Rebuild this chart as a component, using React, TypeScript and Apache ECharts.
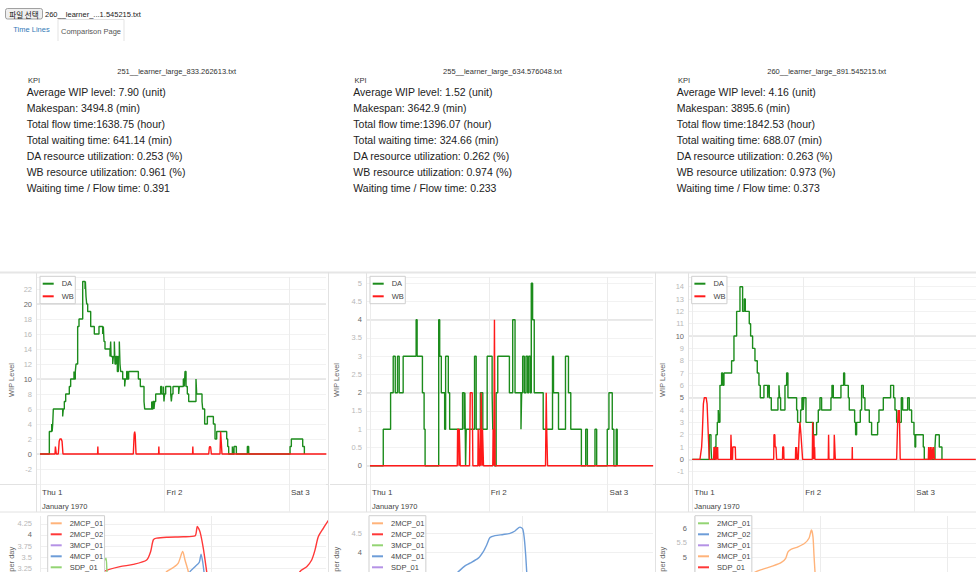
import React, { useEffect, useRef } from "react";
import * as echarts from "echarts";

const FONT = "'Liberation Sans', Arial, Helvetica, sans-serif";
const CJK_FONT = "'Noto Sans CJK KR', 'Liberation Sans', sans-serif";

// ---------- header texts ----------
const FILE_BUTTON = "파일 선택";
const CHOSEN_FILE = "260__learner_...1.545215.txt";
const TAB_LINKS = ["Time Lines", "Comparison Page"];

// ---------- KPI values ----------
const RUN_FILES = [
  "251__learner_large_833.262613.txt",
  "255__learner_large_634.576048.txt",
  "260__learner_large_891.545215.txt",
];
const KPI_TITLE = "KPI";
const AVG_WIP = ["7.90", "1.52", "4.16"];
const MAKESPAN = ["3494.8", "3642.9", "3895.6"];
const FLOW_TIME = ["1638.75", "1396.07", "1842.53"];
const WAIT_TIME = ["641.14", "324.66", "688.07"];
const DA_UTIL = ["0.253", "0.262", "0.263"];
const WB_UTIL = ["0.961", "0.974", "0.973"];
const WAIT_FLOW = ["0.391", "0.233", "0.373"];

// ---------- axis labels ----------
const DAY_TICKS = [0, 24, 48];
const DAY_LABELS = ["Thu 1", "Fri 2", "Sat 3"];
const MONTH_LABEL = "January 1970";
const WIP_TITLE = "WIP Level";
const OUTPUT_TITLE = "per day";
const WIP_NAMES = ["DA", "WB"];
const PRODUCT_NAMES = ["2MCP_01", "2MCP_02", "3MCP_01", "4MCP_01", "SDP_01"];
const OUT1_TICKS = [3.25, 3.5, 3.75, 4, 4.25];
const OUT2_TICKS = [4, 4.5];
const OUT3_TICKS = [5, 5.5, 6];

// ---------- WIP series: [hour, level] ----------
const DA_1 = [[0,0],[1.80,3],[2.25,4],[2.35,3],[2.45,4],[2.57,6],[4.37,5],[4.50,6],[4.69,7],[4.95,8],[5.65,9],[5.91,10],[6.55,11],[6.62,10],[6.81,11],[6.94,12],[7.26,17],[7.52,18],[8.23,23],[8.68,22],[8.75,23],[8.87,21],[9.00,20],[9.19,19],[9.77,17],[10.47,16],[11.37,17],[12.08,16],[12.21,17],[12.34,15],[12.53,14],[13.49,13],[13.62,15],[13.70,13],[14.01,12],[14.14,13],[14.33,15],[14.46,12],[14.65,13],[14.91,11],[15.10,13],[15.29,15],[15.42,12],[15.55,11],[15.94,10],[16.32,9],[16.45,10],[16.71,11],[16.85,10],[17.09,11],[18.96,10],[19.34,9],[20.05,7],[20.18,6],[21.53,7],[21.59,6],[21.78,7],[21.98,6],[22.10,7],[22.30,8],[23.26,9],[23.45,8],[23.78,9],[23.90,7],[24.03,8],[24.23,9],[25.19,8],[25.32,7],[25.45,8],[25.64,9],[26.73,8],[26.86,9],[27.63,10],[27.83,9],[27.95,11],[28.15,9],[28.40,8],[28.66,7],[30.07,10],[30.20,8],[31.23,7],[31.36,6],[31.74,4],[32.26,5],[33.42,4],[33.74,2],[34.06,3],[35.99,2],[36.18,1],[36.37,0],[37.08,1],[37.21,0],[37.40,1],[37.85,0],[39.97,1],[40.23,0],[48.20,1],[48.45,2],[50.64,1],[50.96,0]];
const WB_1 = [[0,0],[2.89,0],[2.97,1],[3.08,1],[3.15,0],[3.53,0],[3.70,1.7],[3.85,2],[4.10,2],[4.25,1.7],[4.43,0],[11.10,0],[11.15,1],[11.20,0],[17.99,0],[18.15,2.6],[18.25,3],[18.35,2.6],[18.51,0],[22.86,0],[22.91,1],[22.96,0],[29.41,0],[29.46,1],[29.51,0],[32.52,0],[32.65,0.9],[32.77,1],[32.90,0.9],[33.03,0],[34.70,0],[34.82,3],[34.95,3],[35.08,0],[55.2,0]];

const DA_2 = [[0,0],[2.68,1],[4.16,2],[4.69,3],[5.10,2],[5.56,3],[5.90,2],[6.70,3],[9.32,4],[9.52,3],[10.59,2],[10.93,1],[11.13,0],[13.88,4],[14.08,3],[14.41,2],[15.08,1],[15.28,3],[15.82,2],[16.09,1],[18.70,2],[19.04,1],[19.17,2],[19.31,0],[19.44,1],[21.12,3],[21.45,1],[22.30,2],[22.79,1],[23.67,3],[24.67,2],[24.80,1],[25.14,0],[25.48,2],[25.81,3],[28.16,2],[28.83,4],[29.30,2],[30.50,1],[30.64,2],[30.84,3],[31.17,2],[31.51,3],[31.84,2],[32.05,3],[32.38,2],[32.58,5],[32.85,4],[33.18,2],[34.99,1],[36.87,3],[37.07,2],[38.08,1],[39.49,3],[40.09,2],[40.56,1],[42.70,0],[43.58,1],[43.91,0],[45.45,1],[45.79,0],[47.93,1],[48.27,2],[48.94,1],[49.27,0],[49.74,1],[49.94,0]];
const WB_2 = [[0,0],[17.63,0],[17.70,1],[17.90,1],[17.97,0],[18.03,1],[18.17,1],[18.23,0],[20.11,0],[20.25,2],[20.65,2],[20.78,0],[21.79,0],[21.85,1],[21.95,1],[22.02,0],[22.20,0],[22.26,1],[22.35,0],[22.46,2],[22.59,2],[22.66,0],[22.73,1],[22.86,1],[22.93,0],[24.80,0],[24.87,1],[25.00,0],[25.14,4],[25.27,0],[35.46,0],[35.60,2],[35.70,1],[35.87,0],[57.2,0]];

const DA_3 = [[0,0],[3.68,2],[4.04,1],[4.18,0],[4.90,1],[5.12,2],[5.41,3],[5.62,4],[5.77,3],[5.98,6],[6.34,7],[6.56,6],[6.85,7],[8.50,8],[9.01,10],[9.59,12],[10.31,14],[10.88,12],[11.24,13],[11.46,12],[12.32,11],[12.61,10],[13.04,9],[13.55,8],[14.05,7],[14.41,6],[14.70,5],[15.49,6],[16.29,5],[16.43,6],[16.65,5],[17.08,4],[18.52,5],[18.74,6],[18.88,5],[19.10,4],[20.04,6],[20.40,7],[20.68,5],[22.56,4],[22.77,3],[23.42,4],[23.71,5],[24.00,4],[24.14,5],[24.58,3],[26.16,2],[26.88,3],[27.24,4],[27.60,5],[27.96,4],[29.98,5],[30.20,6],[30.49,5],[32.14,6],[32.72,7],[32.94,6],[33.73,5],[33.94,4],[35.10,3],[35.31,2],[35.53,3],[36.32,4],[36.61,6],[36.97,5],[37.33,4],[38.27,3],[38.77,2],[40.07,3],[40.36,4],[41.30,5],[42.88,6],[43.53,5],[43.82,4],[44.18,3],[45.19,5],[45.48,4],[46.56,5],[46.92,4],[47.42,3],[47.93,2],[48.14,1],[48.30,2],[49.94,1],[50.16,0],[52.47,1],[52.61,2],[53.40,1],[53.98,0]];
const WB_3 = [[0,0],[1.66,0],[2.02,1],[2.16,2],[2.40,4.5],[2.60,5],[3.00,5],[3.20,4.5],[3.46,2],[3.68,0],[4.62,0],[4.68,1],[4.74,0],[4.84,0],[4.90,1],[4.96,0],[5.20,0],[5.26,1],[5.32,0],[5.42,0],[5.48,1],[5.54,0],[8.30,0],[8.36,2],[8.45,1],[8.50,0],[8.70,0],[8.76,1],[9.30,1],[9.37,0],[17.60,0],[17.66,2],[17.85,2],[17.92,1],[18.10,1],[18.23,0],[19.50,0],[19.56,1],[19.76,1],[19.82,0],[22.30,0],[22.36,1],[22.50,0],[22.56,1],[22.70,0],[22.92,0],[23.10,2],[23.28,3],[23.50,2],[23.85,0],[25.95,0],[26.02,3],[26.09,0],[26.16,2],[26.23,0],[26.30,2],[26.38,0],[26.45,1],[26.52,0],[29.40,0],[29.47,2],[29.55,0],[30.63,0],[30.70,2],[30.85,2],[30.92,0],[34.55,0],[34.59,1],[34.63,0],[44.18,0],[44.40,3],[44.54,4],[44.65,3],[44.76,4],[44.95,0],[51.03,0],[51.10,1],[51.20,0],[51.38,0],[51.45,1],[51.55,0],[51.74,0],[51.80,1],[51.95,1],[52.00,0],[52.11,0],[52.18,1],[52.30,1],[52.35,0],[61.3,0]];

// ---------- per-day output series: [hour, units per day] ----------
const OUT1_2MCP_01 = [[16.5,2.9],[17.71,3.18],[18.63,3.27],[19.33,3.37],[19.95,3.63],[20.27,3.44],[20.73,3.18],[21.2,2.8]];
const OUT1_2MCP_02 = [[6.0,2.9],[8.85,3.18],[11.18,3.29],[13.04,3.34],[14.91,3.44],[15.47,3.63],[15.84,3.89],[16.31,3.93],[17.71,3.95],[20.03,3.96],[21.67,3.98],[21.99,4.19],[22.37,4.07],[22.83,3.70],[23.30,3.18],[23.8,2.6],[30.0,2.0],[35.5,2.8],[36.34,3.18],[37.28,3.29],[37.98,3.44],[38.44,3.66],[38.90,3.96],[39.6,4.15],[40.5,4.37]];
const OUT1_3MCP_01: number[][] = [];
const OUT1_4MCP_01 = [[20.3,3.0],[20.97,3.18],[21.67,3.29],[22.27,3.39],[22.51,3.57],[22.74,3.40],[22.92,3.18],[23.2,2.9]];
const OUT1_SDP_01 = [[7.5,2.9],[8.62,3.29],[9.22,3.48],[9.35,3.2],[9.5,2.8]];

const OUT2_2MCP_01: number[][] = [];
const OUT2_2MCP_02: number[][] = [];
const OUT2_3MCP_01: number[][] = [];
const OUT2_4MCP_01 = [[12.5,3.3],[13.88,3.51],[14.93,3.66],[15.71,3.73],[17.02,3.86],[17.81,4.03],[18.34,4.20],[18.86,4.39],[19.65,4.44],[20.95,4.47],[22.0,4.5],[22.79,4.56],[23.57,4.66],[24.0,4.61],[24.25,4.37],[24.47,3.94],[24.63,3.51],[24.8,3.1]];
const OUT2_SDP_01: number[][] = [];

const OUT3_2MCP_01: number[][] = [];
const OUT3_2MCP_02: number[][] = [];
const OUT3_3MCP_01: number[][] = [];
const OUT3_4MCP_01 = [[10.0,4.3],[11.69,4.52],[13.07,4.61],[14.97,4.72],[16.56,4.84],[17.37,4.98],[17.81,5.20],[18.45,5.29],[19.70,5.37],[20.97,5.49],[21.78,5.66],[22.24,5.94],[22.54,5.71],[22.73,5.09],[22.92,4.52],[23.1,4.0]];
const OUT3_SDP_01: number[][] = [];

// ---------- styling / layout ----------
const ORANGE = "#ffb37a", RED = "#ff3838", PURPLE = "#b592e6", BLUE = "#6d9dd8", GREEN = "#93d473";
const DA_COLOR = "#1c8c1c", WB_COLOR = "#ff1a1a";

const TOP = [
  { left: 37, width: 289, xMin: -0.578, xMax: 55.13, yMin: -4, yMax: 23.6, step: 2, majors: [0, 10, 20], da: DA_1, wb: WB_1, legendLeft: 40, titleX: 11, colL: 0, colR: 328 },
  { left: 367, width: 286, xMin: -0.606, xMax: 57.17, yMin: -0.5, yMax: 5.17, step: 0.5, majors: [0, 2, 4], da: DA_2, wb: WB_2, legendLeft: 370, titleX: 336, colL: 330, colR: 655 },
  { left: 689, width: 287, xMin: -0.71, xMax: 61.34, yMin: -2, yMax: 14.79, step: 1, majors: [0, 5, 10], da: DA_3, wb: WB_3, legendLeft: 691.7, titleX: 662, colL: 656, colR: 976 },
];
const BOTTOM = [
  { left: 40, width: 286, xMax: 39.98, yMin: 3.170, yMax: 4.426, ticks: OUT1_TICKS, majors: [4], legendLeft: 47.7, titleX: 11, margin: 8,
    colors: [ORANGE, RED, PURPLE, BLUE, GREEN], data: [OUT1_2MCP_01, OUT1_2MCP_02, OUT1_3MCP_01, OUT1_4MCP_01, OUT1_SDP_01] },
  { left: 370, width: 283, xMax: 44.48, yMin: 3.503, yMax: 4.946, ticks: OUT2_TICKS, majors: [4], legendLeft: 369, titleX: 336.7, margin: 8,
    colors: [ORANGE, RED, GREEN, BLUE, PURPLE], data: [OUT2_2MCP_01, OUT2_2MCP_02, OUT2_3MCP_01, OUT2_4MCP_01, OUT2_SDP_01] },
  { left: 694, width: 282, xMax: 53.42, yMin: 4.513, yMax: 6.418, ticks: OUT3_TICKS, majors: [5, 6], legendLeft: 695, titleX: 662, margin: 7,
    colors: [GREEN, BLUE, PURPLE, ORANGE, RED], data: [OUT3_2MCP_01, OUT3_2MCP_02, OUT3_3MCP_01, OUT3_4MCP_01, OUT3_SDP_01] },
];
const KPI_X = [26.7, 353.3, 676.7];
const TITLE_X = [176.7, 502.5, 826.7];

const fmt = (v: number) => String(Number(v.toFixed(4)));
const isMajor = (majors: number[], v: number) => majors.some((m) => Math.abs(m - v) < 1e-9);

function kpiLines(i: number) {
  return [
    `Average WIP level: ${AVG_WIP[i]} (unit)`,
    `Makespan: ${MAKESPAN[i]} (min)`,
    `Total flow time:${FLOW_TIME[i]} (hour)`,
    `Total waiting time: ${WAIT_TIME[i]} (min)`,
    `DA resource utilization: ${DA_UTIL[i]} (%)`,
    `WB resource utilization: ${WB_UTIL[i]} (%)`,
    `Waiting time / Flow time: ${WAIT_FLOW[i]}`,
  ];
}

function text(x: number, y: number, t: string, size: number, fill: string, align = "left", extra: any = {}) {
  const { fontFamily, ...rest } = extra;
  return {
    type: "text", x, y, silent: true, ...rest,
    style: { text: t, fontSize: size, fontFamily: fontFamily || FONT, fill, align, verticalAlign: "middle" },
  };
}
function line(x1: number, y1: number, x2: number, y2: number, stroke = "#e2e2e2", w = 1) {
  return { type: "line", silent: true, shape: { x1, y1, x2, y2 }, style: { stroke, lineWidth: w } };
}

function legendOf(left: number, top: number, names: string[], colors: string[], padding: number[], gap: number, lh: number) {
  return {
    show: true, orient: "vertical", left, top, height: 300, selectedMode: false,
    itemWidth: 11, itemHeight: 2, itemGap: gap, padding,
    borderColor: "#cfcfcf", borderWidth: 1, backgroundColor: "#ffffff",
    textStyle: { fontSize: 7.5, color: "#444", fontFamily: FONT, lineHeight: lh, padding: [0, 0, 0, 3] },
    data: names.map((n, k) => ({ name: n, icon: "rect", itemStyle: { color: colors[k], borderWidth: 0 } })),
  };
}

function buildOption() {
  const grid: any[] = [];
  const xAxis: any[] = [];
  const yAxis: any[] = [];
  const series: any[] = [];
  const legend: any[] = [];
  const graphic: any[] = [];

  // top WIP charts
  TOP.forEach((c) => {
    grid.push({ left: c.left, top: 277, width: c.width, height: 207, outerBoundsMode: "none" });
    xAxis.push({
      type: "value", gridIndex: grid.length - 1, min: c.xMin, max: c.xMax,
      axisLine: { show: false },
      axisTick: { show: false, customValues: DAY_TICKS },
      axisLabel: {
        customValues: DAY_TICKS, align: "left", verticalAlign: "top", margin: 1, padding: [0, 0, 0, 2],
        formatter: (v: number) => {
          const k = DAY_TICKS.indexOf(Math.round(v));
          if (k < 0) return "";
          return k === 0 ? `{d|${DAY_LABELS[0]}}\n{m|${MONTH_LABEL}}` : `{d|${DAY_LABELS[k]}}`;
        },
        rich: {
          d: { fontSize: 8, color: "#444", fontFamily: FONT, lineHeight: 14 },
          m: { fontSize: 7.5, color: "#444", fontFamily: FONT, lineHeight: 14 },
        },
      },
      splitLine: { show: true, lineStyle: { color: "#ececec", width: 1 } },
    });
    const yi = yAxis.length;
    yAxis.push({
      type: "value", gridIndex: grid.length - 1, min: c.yMin, max: c.yMax, interval: c.step,
      axisLine: { show: false }, axisTick: { show: false },
      axisLabel: {
        showMinLabel: false, showMaxLabel: false, fontSize: 7.5, fontFamily: FONT, color: "#b8b8b8", margin: 5,
        formatter: (v: number) => (isMajor(c.majors, v) ? `{m|${fmt(v)}}` : fmt(v)),
        rich: { m: { color: "#666", fontSize: 7.5, fontFamily: FONT } },
      },
      splitLine: { show: true, lineStyle: { color: "#f2f2f2", width: 1 } },
    });
    yAxis.push({
      type: "value", gridIndex: grid.length - 1, min: c.yMin, max: c.yMax,
      axisLine: { show: false }, axisLabel: { show: false },
      axisTick: { show: false, customValues: c.majors },
      splitLine: { show: true, lineStyle: { color: "#e3e3e3", width: 1.5 } },
    });
    const xi = xAxis.length - 1;
    series.push({
      type: "line", name: WIP_NAMES[0], xAxisIndex: xi, yAxisIndex: yi, data: c.da, step: "end",
      symbol: "none", lineStyle: { color: DA_COLOR, width: 1.4 }, itemStyle: { color: DA_COLOR }, z: 3,
    });
    series.push({
      type: "line", name: WIP_NAMES[1], xAxisIndex: xi, yAxisIndex: yi, data: c.wb,
      symbol: "none", lineStyle: { color: WB_COLOR, width: 1.4 }, itemStyle: { color: WB_COLOR }, z: 4,
    });
    legend.push(legendOf(c.legendLeft, 276.3, WIP_NAMES, [DA_COLOR, WB_COLOR], [2.4, 1.5, 2.4, 2.7], 2.6, 10));
    graphic.push(text(c.titleX, 380, WIP_TITLE, 7.5, "#666", "center", { rotation: Math.PI / 2 }));
    graphic.push(line(c.colL, 484.5, c.colR, 484.5, "#e2e2e2", 1));
    graphic.push(line(c.left - 0.5, 272, c.left - 0.5, 512, "#e2e2e2", 1));
  });

  // vertical day grid lines continuing through the tick-label band
  TOP.forEach((c) => {
    grid.push({ left: c.left, top: 484, width: c.width, height: 28, outerBoundsMode: "none" });
    xAxis.push({
      type: "value", gridIndex: grid.length - 1, min: c.xMin, max: c.xMax,
      axisLine: { show: false }, axisLabel: { show: false },
      axisTick: { show: false, customValues: DAY_TICKS },
      splitLine: { show: true, lineStyle: { color: "#ececec", width: 1 } },
    });
    yAxis.push({ type: "value", gridIndex: grid.length - 1, show: false });
  });

  // bottom output charts (only their top part lies inside the page)
  BOTTOM.forEach((c) => {
    grid.push({ left: c.left, top: 516, width: c.width, height: 56, outerBoundsMode: "none" });
    const gi = grid.length - 1;
    xAxis.push({
      type: "value", gridIndex: gi, min: 0, max: c.xMax,
      axisLine: { show: false }, axisLabel: { show: false },
      axisTick: { show: false, customValues: DAY_TICKS },
      splitLine: { show: true, lineStyle: { color: "#ececec", width: 1 } },
    });
    const yi = yAxis.length;
    yAxis.push({
      type: "value", gridIndex: gi, min: c.yMin, max: c.yMax,
      axisLine: { show: false },
      axisTick: { show: false, customValues: c.ticks },
      axisLabel: {
        customValues: c.ticks, fontSize: 7.5, fontFamily: FONT, color: "#b8b8b8", margin: c.margin,
        formatter: (v: number) => (isMajor(c.majors, v) ? `{m|${fmt(v)}}` : fmt(v)),
        rich: { m: { color: "#666", fontSize: 7.5, fontFamily: FONT } },
      },
      splitLine: { show: true, lineStyle: { color: "#f0f0f0", width: 1 } },
    });
    const xi = xAxis.length - 1;
    PRODUCT_NAMES.forEach((n, k) => {
      series.push({
        type: "line", name: n, xAxisIndex: xi, yAxisIndex: yi, data: c.data[k], smooth: 0.25,
        symbol: "none", lineStyle: { color: c.colors[k], width: 1.4 }, itemStyle: { color: c.colors[k] }, z: 3,
      });
    });
    legend.push(legendOf(c.legendLeft, 515.7, PRODUCT_NAMES, c.colors, [3.1, 1.5, 3, 3], 2, 9));
    graphic.push(text(c.titleX, 546.7, OUTPUT_TITLE, 7.5, "#666", "right", { rotation: Math.PI / 2 }));
  });

  // page frame lines
  graphic.push(line(0, 272.5, 976, 272.5, "#e6e6e6", 2));
  graphic.push(line(0, 512, 976, 512, "#e2e2e2", 1));
  graphic.push(line(328.5, 272, 328.5, 572, "#e2e2e2", 1));
  graphic.push(line(655.5, 272, 655.5, 572, "#e2e2e2", 1));

  // header
  graphic.push({
    type: "rect", silent: true, shape: { x: 5.5, y: 8.5, width: 37, height: 10.5, r: 2 },
    style: { fill: "#efefef", stroke: "#8a8a8a", lineWidth: 0.8 },
  });
  graphic.push(text(24, 14, FILE_BUTTON, 7.5, "#111", "center", { fontFamily: CJK_FONT }));
  graphic.push(text(45, 14, CHOSEN_FILE, 7.5, "#222"));
  graphic.push(text(13.3, 29.5, TAB_LINKS[0], 7.5, "#337ab7"));
  graphic.push({
    type: "polyline", silent: true, shape: { points: [[58, 41], [58, 19.5], [124, 19.5], [124, 41]] },
    style: { stroke: "#e3e3e3", lineWidth: 1, fill: "none" },
  });
  graphic.push(text(61, 31, TAB_LINKS[1], 7.5, "#555"));

  // KPI blocks
  RUN_FILES.forEach((f, i) => {
    graphic.push(text(TITLE_X[i], 71.7, f, 7.5, "#333", "center"));
    graphic.push(text(KPI_X[i] + 1.3, 80.7, KPI_TITLE, 7.5, "#333"));
    kpiLines(i).forEach((t, r) => {
      graphic.push(text(KPI_X[i], 91.7 + r * 16, t, 10.5, "#222"));
    });
  });

  return { animation: false, backgroundColor: "#ffffff", grid, xAxis, yAxis, series, legend, graphic };
}

export default function App() {
  const ref = useRef<HTMLDivElement>(null);
  useEffect(() => {
    const chart = echarts.init(ref.current!, undefined, { renderer: "svg" });
    chart.setOption(buildOption() as any);
    return () => chart.dispose();
  }, []);
  return (
    <div
      ref={ref}
      style={{ position: "absolute", left: 0, top: 0, width: 976, height: 572, overflow: "hidden", background: "#fff" }}
    />
  );
}
